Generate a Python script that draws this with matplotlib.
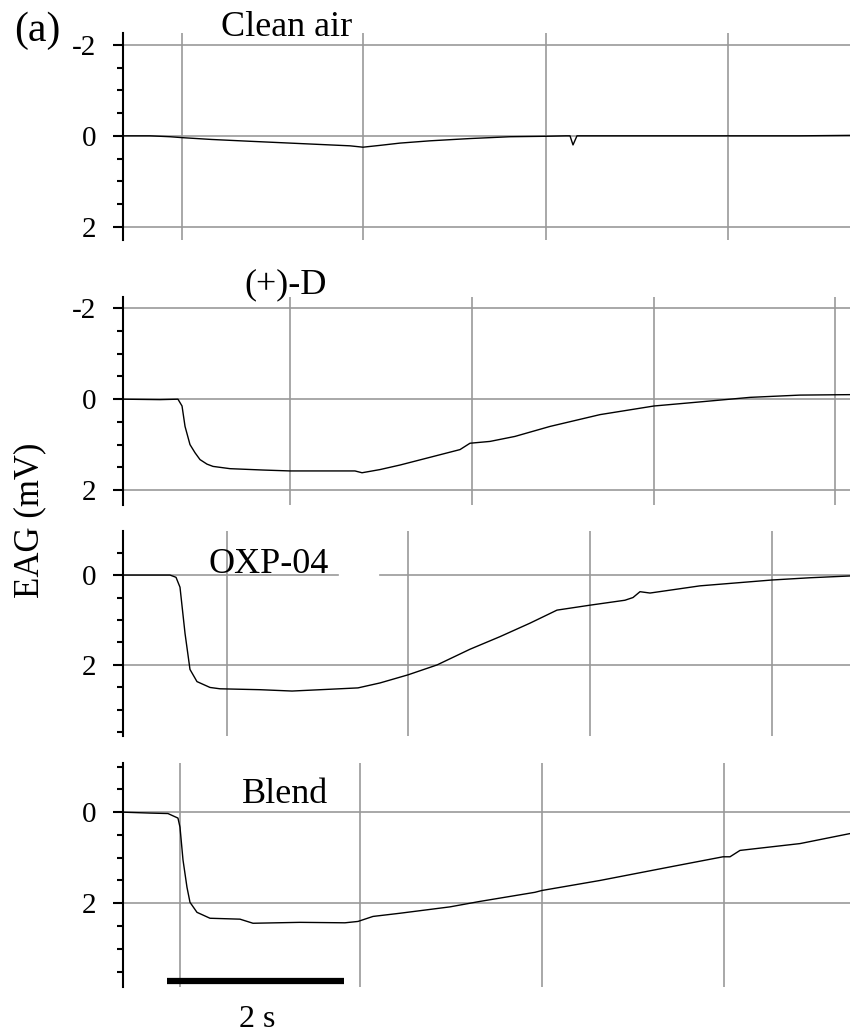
import matplotlib
matplotlib.use("Agg")
import matplotlib.pyplot as plt
from matplotlib.ticker import MultipleLocator, FixedLocator

plt.rcParams['font.family'] = ['Liberation Serif', 'DejaVu Serif']

# traces: time (s) and EAG (mV), positive = depolarisation (plotted downward)
t_clean = [0, 0.305, 0.531, 0.667, 1.0, 1.435, 2.0, 2.565, 2.712, 2.904, 3.130, 3.469,
           3.921, 4.373, 4.780, 5.006, 5.051, 5.085, 5.130, 5.390, 6.520, 7.650, 8.215]
v_clean = [0, 0.0, 0.02, 0.04, 0.08, 0.12, 0.17, 0.22, 0.25, 0.21, 0.16, 0.11,
           0.06, 0.02, 0.01, 0.0, 0.0, 0.2, 0.0, 0.0, 0.0, 0.0, -0.01]

t_d = [0, 0.418, 0.621, 0.667, 0.701, 0.757, 0.814, 0.870, 0.949, 1.017, 1.209, 1.582,
       1.887, 2.226, 2.621, 2.701, 2.904, 3.130, 3.469, 3.808, 3.921, 4.147, 4.429,
       4.825, 5.390, 6.0, 6.520, 7.085, 7.650, 8.215]
v_d = [0, 0.01, 0.0, 0.15, 0.6, 1.0, 1.18, 1.33, 1.43, 1.48, 1.53, 1.56,
       1.58, 1.58, 1.58, 1.62, 1.55, 1.45, 1.28, 1.11, 0.97, 0.93, 0.82,
       0.6, 0.34, 0.15, 0.06, -0.04, -0.09, -0.1]

t_oxp = [0, 0.192, 0.531, 0.599, 0.644, 0.701, 0.757, 0.836, 0.983, 1.096, 1.548, 1.910,
         2.339, 2.655, 2.904, 3.220, 3.548, 3.921, 4.260, 4.599, 4.904, 5.277, 5.672,
         5.763, 5.842, 5.955, 6.520, 7.333, 7.763, 8.215]
v_oxp = [0, 0.0, 0.0, 0.05, 0.27, 1.3, 2.1, 2.37, 2.5, 2.53, 2.55, 2.58,
         2.54, 2.51, 2.4, 2.22, 2.0, 1.65, 1.37, 1.07, 0.78, 0.67, 0.56,
         0.5, 0.37, 0.4, 0.24, 0.11, 0.06, 0.02]

t_blend = [0, 0.305, 0.508, 0.621, 0.644, 0.678, 0.723, 0.757, 0.836, 0.983, 1.322, 1.469,
           2.0, 2.508, 2.655, 2.825, 3.130, 3.695, 4.034, 4.655, 4.734, 5.390, 6.215,
           6.780, 6.859, 6.972, 7.650, 8.215]
v_blend = [0, 0.02, 0.03, 0.13, 0.33, 1.05, 1.65, 1.98, 2.2, 2.33, 2.35, 2.44,
           2.42, 2.43, 2.4, 2.29, 2.22, 2.08, 1.96, 1.76, 1.72, 1.5, 1.19,
           0.98, 0.98, 0.84, 0.69, 0.47]

names = ["Clean air", "(+)-D", "OXP-04", "Blend"]
traces = [(t_clean, v_clean), (t_d, v_d), (t_oxp, v_oxp), (t_blend, v_blend)]
vgrid = [[0.667, 2.712, 4.780, 6.836],
         [1.887, 3.944, 6.0, 8.045],
         [1.175, 3.220, 5.277, 7.333],
         [0.644, 2.678, 4.734, 6.791]]
hgrid = [[-2, 0, 2], [-2, 0, 2], [2], [0, 2]]
yticks = [[-2, 0, 2], [-2, 0, 2], [0, 2], [0, 2]]
ylims = [(2.29, -2.26), (2.33, -2.25), (3.58, -0.98), (3.84, -1.08)]

W, H = 850, 1034
# axes boxes in pixels: top, bottom
boxes = [(33, 240), (297, 505), (531, 736), (763, 987)]
title_pos = [(287, 36), (286, 293), (269, 573), (285, 803)]

fig = plt.figure(figsize=(8.5, 10.34), dpi=100)
gcol = '#999999'
for i in range(4):
    top, bot = boxes[i]
    ax = fig.add_axes([123 / W, (H - bot) / H, 727 / W, (bot - top) / H])
    ax.patch.set_alpha(0)
    for s in ['top', 'right', 'bottom']:
        ax.spines[s].set_visible(False)
    ax.spines['left'].set_linewidth(1.5)
    ax.set_xlim(0, 8.215)
    ax.set_ylim(*ylims[i])
    ax.set_xticks([])
    ax.yaxis.set_major_locator(FixedLocator(yticks[i]))
    ax.yaxis.set_minor_locator(MultipleLocator(0.5))
    ax.tick_params(axis='y', which='major', length=7.5, width=1.5, pad=12, labelsize=21)
    ax.tick_params(axis='y', which='minor', length=4, width=1.5)
    ax.set_yticklabels([str(v) for v in yticks[i]])
    for x in vgrid[i]:
        ax.axvline(x, color=gcol, lw=1.2, zorder=1)
    for y in hgrid[i]:
        ax.axhline(y, color=gcol, lw=1.2, zorder=1)
    if i == 2:
        # zero line is broken to the right of the label
        ax.axhline(0, xmin=0, xmax=(338 - 123) / 727, color=gcol, lw=1.2, zorder=1)
        ax.axhline(0, xmin=(380 - 123) / 727, xmax=1, color=gcol, lw=1.2, zorder=1)
    t, v = traces[i]
    ax.plot(t, v, color='black', lw=1.0, zorder=3)
    fig.text(title_pos[i][0] / W, (H - title_pos[i][1]) / H, names[i],
             ha='center', va='baseline', fontsize=26)
    if i == 3:
        ax.plot([0.5, 2.5], [3.71, 3.71], color='black', lw=4.5,
                solid_capstyle='butt', clip_on=False)

fig.text(37 / W, (H - 41) / H, "(a)", ha='center', va='baseline', fontsize=30)
fig.text(30 / W, (H - 520) / H, "EAG (mV)", rotation=90, ha='center', va='center', fontsize=25)
fig.text(257 / W, (H - 1027) / H, "2 s", ha='center', va='baseline', fontsize=23)

fig.savefig("out.png", dpi=100)
